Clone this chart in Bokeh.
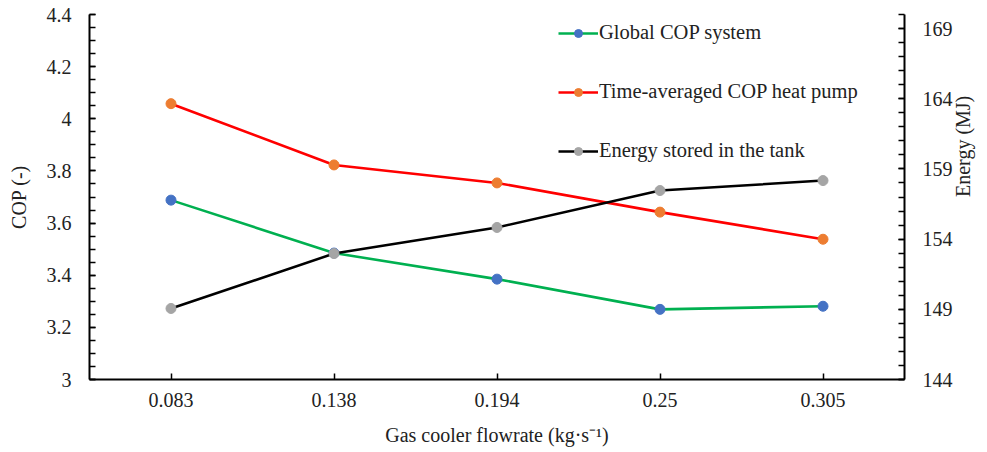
import math

from bokeh.plotting import figure
from bokeh.models import (FactorRange, Range1d, LinearAxis, FixedTicker,
                          Legend, LegendItem)
from bokeh.embed import file_html
from bokeh.resources import INLINE

# Gas cooler flowrate categories (kg/s)
flowrates = ["0.083", "0.138", "0.194", "0.25", "0.305"]

# Series values
global_cop = [3.688, 3.485, 3.385, 3.269, 3.281]
time_avg_cop = [4.058, 3.823, 3.754, 3.642, 3.538]
energy_stored = [149.06, 152.97, 154.83, 157.46, 158.17]

# Axis ticks and their labels
cop_ticks = [3.0, 3.2, 3.4, 3.6, 3.8, 4.0, 4.2, 4.4]
cop_labels = ["3", "3.2", "3.4", "3.6", "3.8", "4", "4.2", "4.4"]
cop_minor = [3.0 + 0.05 * i for i in range(29)]
energy_ticks = [144, 149, 154, 159, 164, 169]
energy_labels = ["144", "149", "154", "159", "164", "169"]
energy_minor = list(range(144, 171))

FONT = "Liberation Serif"
FS = "20px"
TXT = "#222222"

p = figure(width=987, height=452, output_backend="svg", toolbar_location=None,
           x_range=FactorRange(*flowrates, range_padding=0),
           y_range=Range1d(3.0, 4.4),
           min_border_left=89, min_border_right=76,
           min_border_top=14, min_border_bottom=73)
p.extra_y_ranges = {"energy": Range1d(144, 170)}
p.outline_line_color = None
p.xgrid.grid_line_color = None
p.ygrid.grid_line_color = None
p.background_fill_color = "white"
p.border_fill_color = "white"


def style_axis(ax):
    ax.axis_line_color = "black"
    ax.axis_line_width = 2
    ax.major_tick_line_color = "black"
    ax.major_tick_line_width = 1.5
    ax.minor_tick_line_color = "black"
    ax.minor_tick_line_width = 1.5
    ax.major_tick_in = 6
    ax.major_tick_out = 0
    ax.minor_tick_in = 6
    ax.minor_tick_out = 0
    ax.major_label_text_font = FONT
    ax.major_label_text_font_size = FS
    ax.major_label_text_color = TXT
    ax.axis_label_text_font = FONT
    ax.axis_label_text_font_size = FS
    ax.axis_label_text_font_style = "normal"
    ax.axis_label_text_color = TXT


# x axis
xa = p.xaxis[0]
style_axis(xa)
xa.axis_label = "Gas cooler flowrate (kg·s⁻¹)"
xa.major_label_standoff = 13
xa.axis_label_standoff = 14

# left COP axis
ya = p.yaxis[0]
style_axis(ya)
ya.ticker = FixedTicker(ticks=cop_ticks, minor_ticks=cop_minor)
ya.major_label_overrides = dict(zip(cop_ticks, cop_labels))
ya.axis_label = "COP (-)"
ya.major_label_standoff = 18
ya.axis_label_standoff = 14

# right energy axis, title reading bottom-to-top
ra = LinearAxis(y_range_name="energy",
                ticker=FixedTicker(ticks=energy_ticks, minor_ticks=energy_minor))
style_axis(ra)
ra.major_label_overrides = dict(zip(energy_ticks, energy_labels))
ra.major_label_standoff = 18
ra.axis_label = "Energy (MJ)"
ra.axis_label_standoff = 7
if hasattr(ra, "axis_label_orientation"):
    ra.axis_label_orientation = math.pi / 2
p.add_layout(ra, "right")

LW = 2.6
MS = 10

g_line = p.line(flowrates, global_cop, line_color="#00B050", line_width=LW)
g_pts = p.scatter(flowrates, global_cop, size=MS, fill_color="#4472C4",
                  line_color="#4472C4")
r_line = p.line(flowrates, time_avg_cop, line_color="#FF0000", line_width=LW)
r_pts = p.scatter(flowrates, time_avg_cop, size=MS, fill_color="#ED7D31",
                  line_color="#ED7D31")
e_line = p.line(flowrates, energy_stored, line_color="black", line_width=LW,
                y_range_name="energy")
e_pts = p.scatter(flowrates, energy_stored, size=MS, fill_color="#A5A5A5",
                  line_color="#A5A5A5", y_range_name="energy")

legend = Legend(items=[
    LegendItem(label="Global COP system", renderers=[g_line, g_pts]),
    LegendItem(label="Time-averaged COP heat pump", renderers=[r_line, r_pts]),
    LegendItem(label="Energy stored in the tank", renderers=[e_line, e_pts]),
], location=(469, 217))
legend.glyph_width = 40
legend.glyph_height = 20
legend.label_height = 20
legend.spacing = 36
legend.padding = 0
legend.margin = 0
legend.label_standoff = 1
legend.label_text_font = FONT
legend.label_text_font_size = "20.5px"
legend.label_text_color = TXT
legend.border_line_color = None
legend.background_fill_alpha = 0
p.add_layout(legend, "center")

open("out.html", "w").write(file_html(p, INLINE))
